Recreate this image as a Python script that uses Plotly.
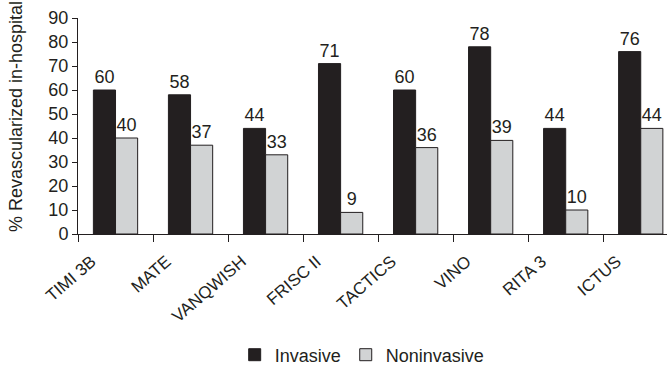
import plotly.graph_objects as go

trials = ["TIMI 3B", "MATE", "VANQWISH", "FRISC II", "TACTICS", "VINO", "RITA 3", "ICTUS"]
invasive = [60, 58, 44, 71, 60, 78, 44, 76]
noninvasive = [40, 37, 33, 9, 36, 39, 10, 44]
y_title = "% Revascularized in-hospital"

FONT = "Liberation Sans, Arial, sans-serif"
INK = "#231f20"

fig = go.Figure()
fig.add_trace(go.Bar(
    x=trials, y=invasive, name="Invasive",
    marker=dict(color=INK, line=dict(color=INK, width=1)),
    text=[str(v) for v in invasive], textposition="outside", cliponaxis=False,
    textfont=dict(size=18, color=INK, family=FONT),
))
fig.add_trace(go.Bar(
    x=trials, y=noninvasive, name="Noninvasive",
    marker=dict(color="#d1d3d4", line=dict(color=INK, width=1)),
    text=[str(v) for v in noninvasive], textposition="outside", cliponaxis=False,
    textfont=dict(size=18, color=INK, family=FONT),
))

fig.update_layout(
    width=667, height=370,
    margin=dict(l=78, r=0, t=18, b=136, autoexpand=False),
    paper_bgcolor="white", plot_bgcolor="white",
    font=dict(family=FONT, size=18, color=INK),
    barmode="group", bargap=0.41, bargroupgap=0,
    showlegend=True,
    legend=dict(orientation="h", x=0.543, xanchor="center", xref="container",
                y=1 - 355 / 370, yanchor="middle", yref="container",
                font=dict(size=18), traceorder="normal"),
    xaxis=dict(
        type="category", range=[-0.5, 7.35], automargin=False,
        showline=True, linecolor=INK, linewidth=1,
        ticks="outside", tickson="boundaries", ticklen=7, tickwidth=1, tickcolor=INK,
        tickangle=-41, tickfont=dict(size=17), showgrid=False, zeroline=False,
        ticklabelshift=-24, ticklabelstandoff=10,
    ),
    yaxis=dict(
        range=[0, 90], tickvals=list(range(0, 91, 10)), automargin=False,
        showline=True, linecolor=INK, linewidth=1,
        ticks="outside", ticklen=5, tickcolor=INK,
        tickfont=dict(size=18), showgrid=False, zeroline=False,
    ),
    annotations=[dict(
        text=y_title, textangle=-90, xref="paper", yref="paper",
        x=0, xshift=-62, y=(234 - 117) / 216, xanchor="center", yanchor="middle",
        showarrow=False, font=dict(size=18, color=INK),
    )],
)

fig.write_html("out.html", config={"displayModeBar": False},
               post_script="document.body.style.margin='0';")
